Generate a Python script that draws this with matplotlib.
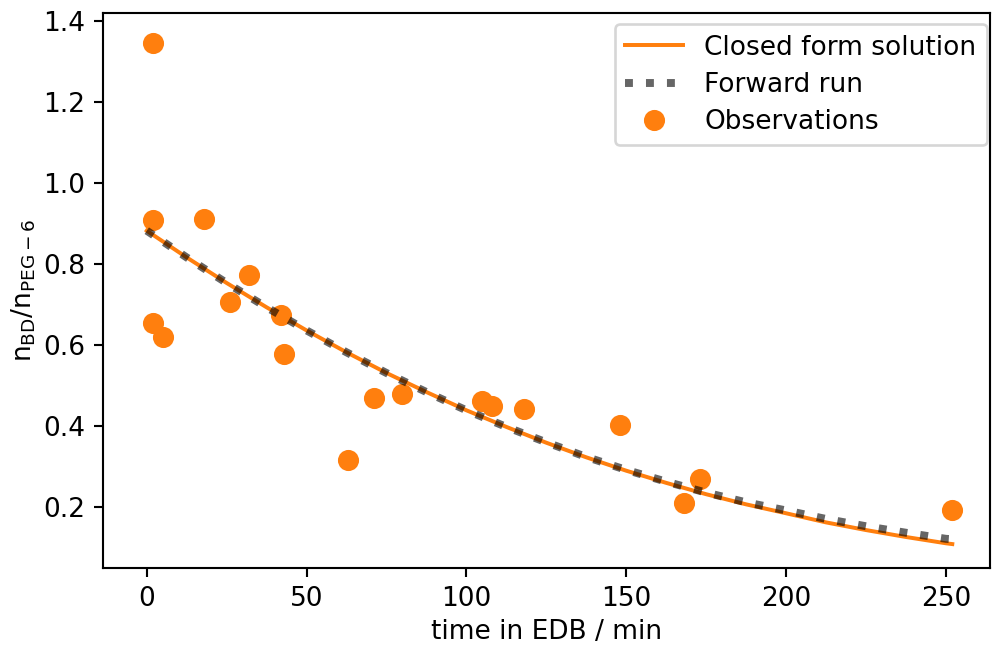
import matplotlib
matplotlib.use("Agg")
import matplotlib.pyplot as plt

# Observations
obs_t = [2, 2, 2, 5, 18, 26, 32, 42, 43, 63, 71, 80, 105, 108, 118, 148, 168, 173, 252]
obs_y = [1.346, 0.909, 0.654, 0.621, 0.910, 0.706, 0.773, 0.674, 0.577, 0.317,
         0.469, 0.479, 0.463, 0.450, 0.443, 0.403, 0.211, 0.270, 0.193]

# Closed form solution
cf_t = [0, 12.5, 25, 37.5, 50, 62.5, 75, 87.5, 100, 112.5, 125, 137.5, 150,
        162.5, 175, 187.5, 200, 212.5, 225, 237.5, 250, 252]
cf_y = [0.882, 0.816, 0.753, 0.693, 0.636, 0.582, 0.531, 0.484, 0.439, 0.398,
        0.359, 0.323, 0.290, 0.260, 0.232, 0.207, 0.185, 0.1625, 0.1436, 0.1265,
        0.111, 0.109]

# Forward run
fr_t = cf_t
fr_y = [0.882, 0.816, 0.753, 0.693, 0.636, 0.582, 0.531, 0.484, 0.439, 0.398,
        0.360, 0.324, 0.292, 0.263, 0.236, 0.212, 0.192, 0.171, 0.153, 0.137,
        0.122, 0.121]

plt.rcParams['font.family'] = ['DejaVu Sans']
plt.rcParams['font.size'] = 10

DPI = 190
fig = plt.figure(figsize=(992 / DPI, 647 / DPI), dpi=DPI)
ax = fig.add_axes([103.3 / 992, 1 - 568 / 647, (990 - 103.3) / 992, (568 - 13) / 647])

ax.plot(obs_t, obs_y, 'o', color='#ff7f0e', markersize=7, label='Observations', zorder=1)
ax.plot(cf_t, cf_y, '-', color='#ff7f0e', linewidth=1.5, label='Closed form solution', zorder=2)
ax.plot(fr_t, fr_y, ':', color='k', alpha=0.6, linewidth=3, label='Forward run', zorder=3)

ax.set_xlim(-13.6, 263.8)
ax.set_ylim(0.050, 1.419)
ax.set_xlabel('time in EDB / min', labelpad=2.5)
ax.set_ylabel(r'$\mathrm{n_{BD}/n_{PEG-6}}$', labelpad=2)
ax.set_yticks([0.2, 0.4, 0.6, 0.8, 1.0, 1.2, 1.4])
ax.set_xticks([0, 50, 100, 150, 200, 250])

handles, labels = ax.get_legend_handles_labels()
order = [1, 2, 0]
ax.legend([handles[i] for i in order], [labels[i] for i in order],
          loc='upper right', bbox_to_anchor=(0.9966, 0.980), borderaxespad=0,
          handlelength=2.2, labelspacing=0.42)

fig.savefig('out.png', dpi=DPI)
